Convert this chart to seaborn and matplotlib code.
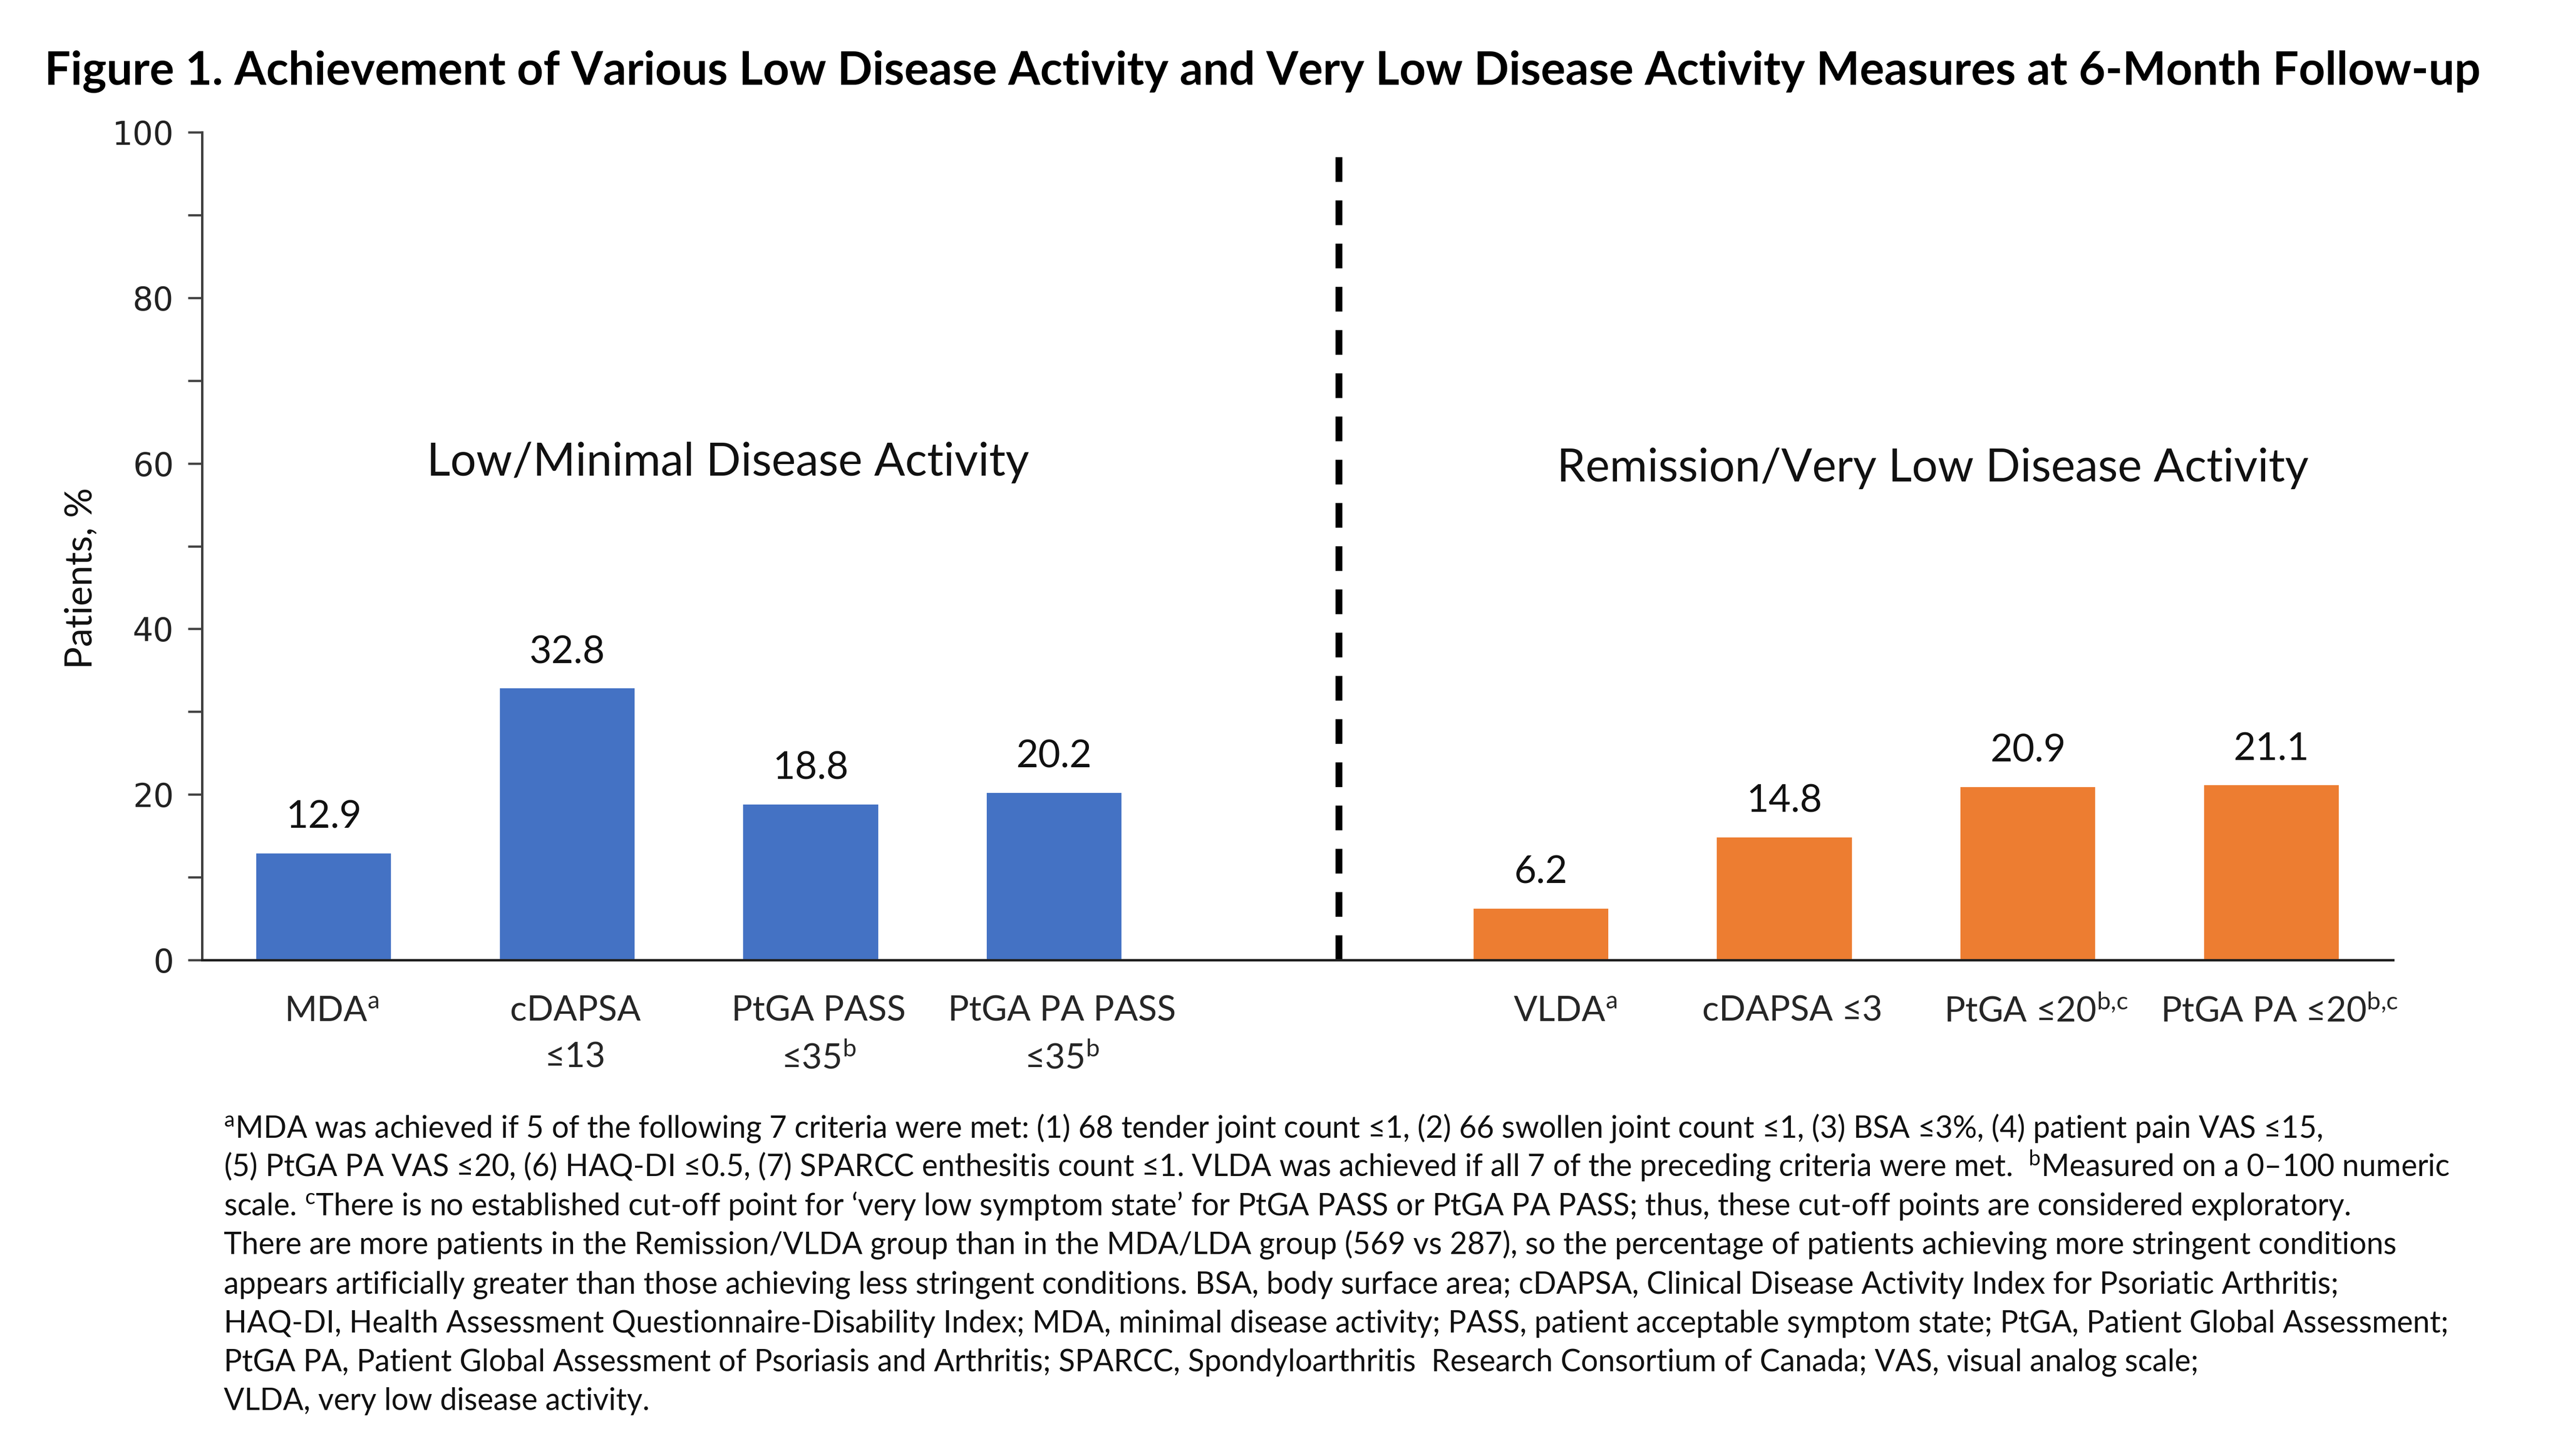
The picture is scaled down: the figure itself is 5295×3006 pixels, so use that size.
import matplotlib
matplotlib.use("Agg")
import matplotlib.pyplot as plt
import matplotlib.transforms as mtransforms
import seaborn as sns
import pandas as pd
from matplotlib.ticker import MultipleLocator

# ---------------- data ----------------
low_labels = [r"MDA$^{\mathrm{a}}$", "cDAPSA\n≤13", "PtGA PASS\n≤35$^{\\mathrm{b}}$", "PtGA PA PASS\n≤35$^{\\mathrm{b}}$"]
low_values = [12.9, 32.8, 18.8, 20.2]
rem_labels = [r"VLDA$^{\mathrm{a}}$", "cDAPSA ≤3", "PtGA ≤20$^{\\mathrm{b{,}c}}$", "PtGA PA ≤20$^{\\mathrm{b{,}c}}$"]
rem_values = [6.2, 14.8, 20.9, 21.1]
group_names = ["Low/Minimal Disease Activity", "Remission/Very Low Disease Activity"]
y_ticks = [0, 20, 40, 60, 80, 100]

title = "Figure 1. Achievement of Various Low Disease Activity and Very Low Disease Activity Measures at 6-Month Follow-up"
ylabel = "Patients, %"
footnote_lines = [
    "$^{\\mathrm{a}}$MDA was achieved if 5 of the following 7 criteria were met: (1) 68 tender joint count ≤1, (2) 66 swollen joint count ≤1, (3) BSA ≤3%, (4) patient pain VAS ≤15,",
    "(5) PtGA PA VAS ≤20, (6) HAQ-DI ≤0.5, (7) SPARCC enthesitis count ≤1. VLDA was achieved if all 7 of the preceding criteria were met.  $^{\\mathrm{b}}$Measured on a 0–100 numeric",
    "scale. $^{\\mathrm{c}}$There is no established cut-off point for ‘very low symptom state’ for PtGA PASS or PtGA PA PASS; thus, these cut-off points are considered exploratory.",
    "There are more patients in the Remission/VLDA group than in the MDA/LDA group (569 vs 287), so the percentage of patients achieving more stringent conditions",
    "appears artificially greater than those achieving less stringent conditions. BSA, body surface area; cDAPSA, Clinical Disease Activity Index for Psoriatic Arthritis;",
    "HAQ-DI, Health Assessment Questionnaire-Disability Index; MDA, minimal disease activity; PASS, patient acceptable symptom state; PtGA, Patient Global Assessment;",
    "PtGA PA, Patient Global Assessment of Psoriasis and Arthritis; SPARCC, Spondyloarthritis  Research Consortium of Canada; VAS, visual analog scale;",
    "VLDA, very low disease activity.",
]

BLUE = "#4472C4"
ORANGE = "#ED7D31"
FAM = ["Lato", "DejaVu Sans"]

sns.set_theme(style="white")
plt.rcParams["font.family"] = FAM
plt.rcParams["mathtext.fontset"] = "custom"
plt.rcParams["mathtext.rm"] = "Lato"
plt.rcParams["mathtext.it"] = "Lato:italic"
plt.rcParams["mathtext.bf"] = "Lato:bold"

gap = " "
order = low_labels + [gap] + rem_labels
df = pd.DataFrame({
    "measure": low_labels + rem_labels,
    "pct": low_values + rem_values,
    "group": [group_names[0]] * len(low_labels) + [group_names[1]] * len(rem_labels),
})

W, H, DPI = 5295, 3006, 300
fig = plt.figure(figsize=(W / DPI, H / DPI), dpi=DPI)
ax = fig.add_axes([417 / W, 1 - 1982 / H, (4940 - 417) / W, (1982 - 273) / H])

sns.barplot(data=df, x="measure", y="pct", hue="group", order=order,
            palette={group_names[0]: BLUE, group_names[1]: ORANGE},
            width=0.554, dodge=False, legend=False, saturation=1, ax=ax,
            edgecolor="none")

ax.set_xlim(-0.5, len(order) - 0.5)
ax.set_ylim(0, 100)
ax.set_yticks(y_ticks)
ax.yaxis.set_minor_locator(MultipleLocator(10))
ax.tick_params(axis="y", which="both", direction="out", length=7, width=1.1,
               color="#404040", left=True, labelsize=16, pad=7)
for t in ax.get_yticklabels():
    t.set_fontfamily("DejaVu Sans")
    t.set_color("#222222")
ax.tick_params(axis="x", length=0, pad=17.5, labelsize=17.3)
ax.set_xticks(range(len(order)))
ax.set_xticklabels(order, fontsize=17.3, va="top", linespacing=1.57)
shift = mtransforms.ScaledTranslation(4 / 72, 0, fig.dpi_scale_trans)
for i, t in enumerate(ax.get_xticklabels()):
    extra = mtransforms.ScaledTranslation(8 / 72, 0, fig.dpi_scale_trans) if order[i] == rem_labels[0] else mtransforms.Affine2D()
    t.set_transform(t.get_transform() + shift + extra)
ax.set_xlabel("")
ax.set_ylabel("")

for side in ["top", "right"]:
    ax.spines[side].set_visible(False)
ax.spines["left"].set_color("#404040")
ax.spines["left"].set_linewidth(1.2)
ax.spines["bottom"].set_color("#202020")
ax.spines["bottom"].set_linewidth(1.2)

# value labels
for cont in ax.containers:
    for bar in cont:
        h = bar.get_height()
        if h != h or h == 0:
            continue
        ax.annotate(f"{h:.1f}", (bar.get_x() + bar.get_width() / 2, h),
                    xytext=(0, 12.5), textcoords="offset points",
                    ha="center", va="baseline", fontsize=19, color="#111111")

# separator
sep = len(low_labels) + 0.17
ax.axvline(sep, ymin=0, ymax=0.974, color="black", lw=3.4,
           linestyle=(0, (3.6, 2.7)))

# group labels
ax.text(1.66, 58.5, group_names[0], ha="center", va="baseline", fontsize=22.7, color="#111111")
ax.text(6.61, 57.8, group_names[1], ha="center", va="baseline", fontsize=22.7, color="#111111")

# y label
fig.text(168 / W, 1 - 1194 / H, ylabel, rotation=90, ha="center", va="center",
         fontsize=18.5, color="#111111")

# title
fig.text(2606 / W, 1 - 175 / H, title, ha="center", va="baseline",
         fontsize=22.8, fontweight="bold", color="black")

# footnotes
y0 = 2348
for i, line in enumerate(footnote_lines):
    fig.text(462 / W, 1 - (y0 + i * 80.5) / H, line, ha="left", va="baseline",
             fontsize=15.0, color="#111111")

fig.savefig("out.png", dpi=DPI)
